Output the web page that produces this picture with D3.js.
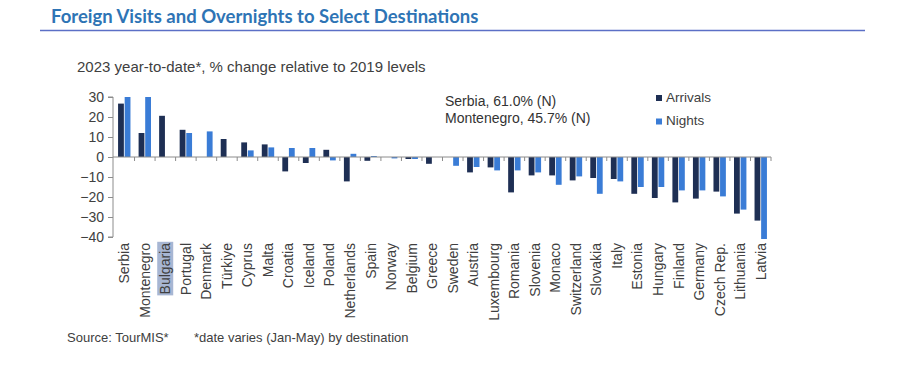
<!DOCTYPE html>
<html>
<head>
<meta charset="utf-8">
<script src="https://cdn.jsdelivr.net/npm/d3@7"></script>
<style>
  html, body { margin: 0; padding: 0; background: #fff; }
  svg { display: block; }
</style>
</head>
<body>
<svg id="chart" width="923" height="386"></svg>
<script>
const categories = ["Serbia","Montenegro","Bulgaria","Portugal","Denmark","Türkiye","Cyprus","Malta","Croatia","Iceland","Poland","Netherlands","Spain","Norway","Belgium","Greece","Sweden","Austria","Luxembourg","Romania","Slovenia","Monaco","Switzerland","Slovakia","Italy","Estonia","Hungary","Finland","Germany","Czech Rep.","Lithuania","Latvia"];
const arrivals = [26.7, 12.0, 20.6, 13.6, null, 9.0, 7.3, 6.3, -7.2, -3.0, 3.6, -12.2, -1.9, null, -1.0, -3.4, null, -7.7, -5.2, -17.7, -9.2, -9.2, -11.7, -10.5, -11.0, -18.4, -20.5, -22.7, -20.8, -17.3, -28.3, -31.8];
const nights = [30, 30, null, 12.0, 12.8, null, 3.3, 4.8, 4.5, 4.5, -1.7, 1.6, 0.5, -0.7, -1.0, null, -4.4, -5.0, -6.7, -6.7, -7.7, -13.9, -9.7, -18.4, -12.2, -15.0, -15.0, -16.7, -16.7, -19.7, -26.3, -41.0];
const yTicks = [30, 20, 10, 0, -10, -20, -30, -40];
const seriesNames = ["Arrivals", "Nights"];
const annotations = ["Serbia, 61.0% (N)", "Montenegro, 45.7% (N)"];
const titleText = "Foreign Visits and Overnights to Select Destinations";
const subtitleText = "2023 year-to-date*, % change relative to 2019 levels";
const sourceText = "Source: TourMIS*       *date varies (Jan-May) by destination";

const colors = { Arrivals: "#1e2f54", Nights: "#3a7cd6" };
const svg = d3.select("#chart");
const font = "'Liberation Sans', Arial, sans-serif";

// Title
svg.append("text").attr("x", 51).attr("y", 23)
  .attr("font-family", "Lato, 'Open Sans', sans-serif").attr("font-weight", 700)
  .attr("font-size", 18.5).attr("fill", "#2e74b5").text(titleText);
svg.append("line").attr("x1", 40).attr("x2", 865).attr("y1", 30.5).attr("y2", 30.5)
  .attr("stroke", "#5b6fc6").attr("stroke-width", 1.5);

// Subtitle
svg.append("text").attr("x", 77).attr("y", 72)
  .attr("font-family", font).attr("font-size", 15).attr("fill", "#404040").text(subtitleText);

const x = d3.scaleBand().domain(categories).range([114, 771]).paddingInner(0).paddingOuter(0);
const y = d3.scaleLinear().domain([-40, 30]).range([237, 97]);
const barW = 5.8, gap = 0.8;

// Bars
const g = svg.append("g");
const data = categories.map((c, i) => ({ c, a: arrivals[i], n: nights[i] }));
const center = c => x(c) + x.bandwidth() / 2;
g.selectAll("rect.arr").data(data.filter(d => d.a !== null)).join("rect")
  .attr("x", d => center(d.c) - gap / 2 - barW)
  .attr("y", d => y(Math.max(0, d.a)))
  .attr("width", barW)
  .attr("height", d => Math.abs(y(d.a) - y(0)))
  .attr("fill", colors.Arrivals);
g.selectAll("rect.ngt").data(data.filter(d => d.n !== null)).join("rect")
  .attr("x", d => center(d.c) + gap / 2)
  .attr("y", d => y(Math.max(0, d.n)))
  .attr("width", barW)
  .attr("height", d => Math.abs(y(d.n) - y(0)))
  .attr("fill", colors.Nights);

// Y axis
const yAxis = d3.axisLeft(y).tickValues(yTicks).tickSize(5).tickPadding(4).tickFormat(d3.format("d"));
const ya = svg.append("g").attr("transform", "translate(113,0)").call(yAxis);
ya.select(".domain").attr("stroke", "#8c8c8c").attr("d", `M-5,${y(30)}H0V${y(-40)}H-5`);
ya.selectAll(".tick line").attr("stroke", "#8c8c8c");
ya.selectAll(".tick text").attr("font-family", font).attr("font-size", 14).attr("fill", "#404040");

// X axis line at zero with ticks at category boundaries
const xa = svg.append("g");
xa.append("line").attr("x1", 113).attr("x2", 771).attr("y1", y(0)).attr("y2", y(0))
  .attr("stroke", "#8c8c8c");
xa.selectAll("line.t").data(d3.range(1, categories.length + 1)).join("line")
  .attr("x1", i => 114 + i * x.bandwidth()).attr("x2", i => 114 + i * x.bandwidth())
  .attr("y1", y(0)).attr("y2", y(0) + 4).attr("stroke", "#8c8c8c");

// Category labels
const labels = svg.append("g");
const lbl = labels.selectAll("text").data(categories).join("text")
  .attr("transform", c => `translate(${center(c)},243) rotate(-90)`)
  .attr("text-anchor", "end").attr("dy", "0.35em")
  .attr("font-family", font).attr("font-size", 14).attr("fill", "#404040")
  .text(c => c);
// highlight behind Bulgaria as in reference
lbl.filter(c => c === "Bulgaria").each(function (c) {
  const bb = this.getBBox();
  labels.insert("rect", "text")
    .attr("transform", `translate(${center(c)},243) rotate(-90)`)
    .attr("x", bb.x - 1).attr("y", bb.y).attr("width", bb.width + 2).attr("height", bb.height)
    .attr("fill", "#a7b6d3");
});

// Annotations
svg.selectAll("text.ann").data(annotations).join("text")
  .attr("x", 445).attr("y", (d, i) => 106 + i * 17)
  .attr("font-family", font).attr("font-size", 14).attr("fill", "#333").text(d => d);

// Legend
const lg = svg.selectAll("g.lg").data(seriesNames).join("g")
  .attr("transform", (d, i) => `translate(656,${95 + i * 23.5})`);
lg.append("rect").attr("width", 6).attr("height", 6).attr("fill", d => colors[d]);
lg.append("text").attr("x", 10).attr("y", 6.5)
  .attr("font-family", font).attr("font-size", 13.5).attr("fill", "#404040").text(d => d);

// Source
svg.append("text").attr("x", 67).attr("y", 342).style("white-space", "pre")
  .attr("font-family", font).attr("font-size", 13).attr("fill", "#404040").text(sourceText);
</script>
</body>
</html>
